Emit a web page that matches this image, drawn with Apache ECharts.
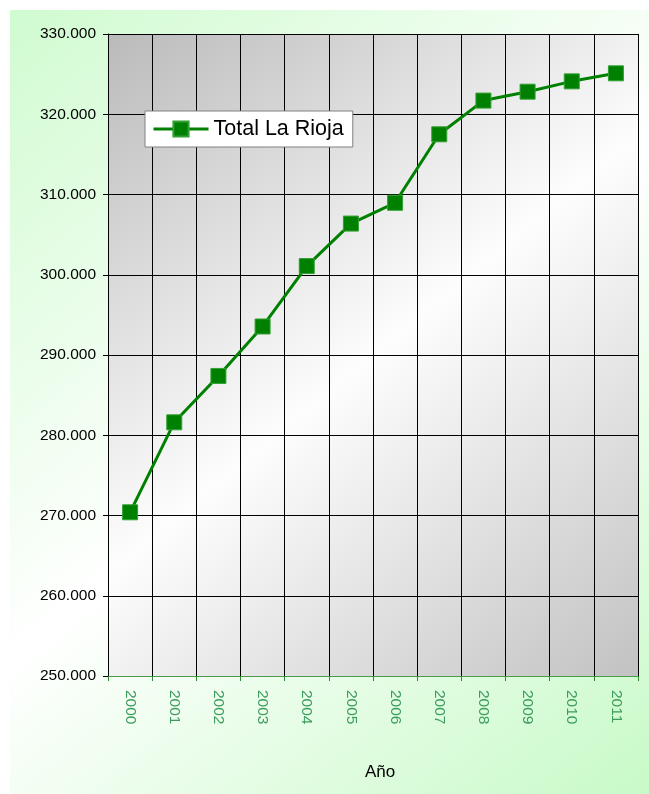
<!DOCTYPE html>
<html><head><meta charset="utf-8">
<script src="https://cdn.jsdelivr.net/npm/echarts@6/dist/echarts.min.js"></script>
<style>html,body{margin:0;padding:0;background:#fff}#c{width:649px;height:794px}</style>
</head><body><div id="c"></div>
<script>
const years = ['2000','2001','2002','2003','2004','2005','2006','2007','2008','2009','2010','2011'];
const totalLaRioja = [270400, 281614, 287390, 293553, 301084, 306377, 308968, 317501, 321702, 322810, 324100, 325100];
const seriesName = 'Total La Rioja';
const axisTitleX = 'Año';

const chart = echarts.init(document.getElementById('c'));
const fmt = v => {
  const s = Math.round(v).toString();
  return s.replace(/\B(?=(\d{3})+(?!\d))/g, '.');
};
chart.setOption({
  backgroundColor: '#ffffff',
  animation: false,
  graphic: [{
    type: 'rect', z: -10, silent: true,
    shape: {x: 10, y: 10, width: 639, height: 784},
    style: {fill: new echarts.graphic.LinearGradient(0, 0, 1, 1, [
      {offset: 0, color: '#d0fbd0'}, {offset: 0.5, color: '#ffffff'}, {offset: 1, color: '#c8fac8'}
    ])}
  }],
  grid: {
    left: 108, top: 34, width: 530, height: 642,
    show: true, borderWidth: 0,
    backgroundColor: new echarts.graphic.LinearGradient(0, 0, 1, 1, [
      {offset: 0, color: '#bababa'}, {offset: 0.5, color: '#fdfdfd'}, {offset: 1, color: '#c2c2c2'}
    ])
  },
  legend: {
    left: 145, top: 111,
    data: [seriesName],
    backgroundColor: '#ffffff',
    borderColor: '#808080', borderWidth: 1, borderRadius: 0,
    padding: [7, 9, 7, 7],
    itemWidth: 55, itemHeight: 19, itemGap: 5,
    lineStyle: {width: 3},
    textStyle: {fontFamily: 'Liberation Sans', fontSize: 21.5, color: '#000'}
  },
  xAxis: {
    type: 'category', data: years, boundaryGap: true,
    axisLine: {lineStyle: {color: '#4a9a4a', width: 1}},
    axisTick: {show: true, length: 5, lineStyle: {color: '#2a8a2a'}},
    splitLine: {show: true, lineStyle: {color: '#000', width: 1}},
    axisLabel: {rotate: -90, margin: 14, color: '#3c9c5c', fontFamily: 'Liberation Sans', fontSize: 15.5},
    name: axisTitleX, nameLocation: 'middle', nameGap: 88,
    nameTextStyle: {fontFamily: 'Liberation Sans', fontSize: 17, color: '#000', padding: [0, 0, 0, 14]}
  },
  yAxis: {
    type: 'value', min: 250000, max: 330000, interval: 10000,
    axisLine: {show: true, lineStyle: {color: '#000'}},
    axisTick: {show: true, length: 5, lineStyle: {color: '#000'}},
    splitLine: {show: true, lineStyle: {color: '#000', width: 1}},
    axisLabel: {formatter: fmt, margin: 12, color: '#000', fontFamily: 'Liberation Sans', fontSize: 15.5}
  },
  series: [{
    name: seriesName, type: 'line', data: totalLaRioja,
    symbol: 'rect', symbolSize: 15,
    lineStyle: {color: '#008000', width: 3},
    itemStyle: {color: '#008000', borderColor: '#33a033', borderWidth: 1}
  }]
});
</script></body></html>
